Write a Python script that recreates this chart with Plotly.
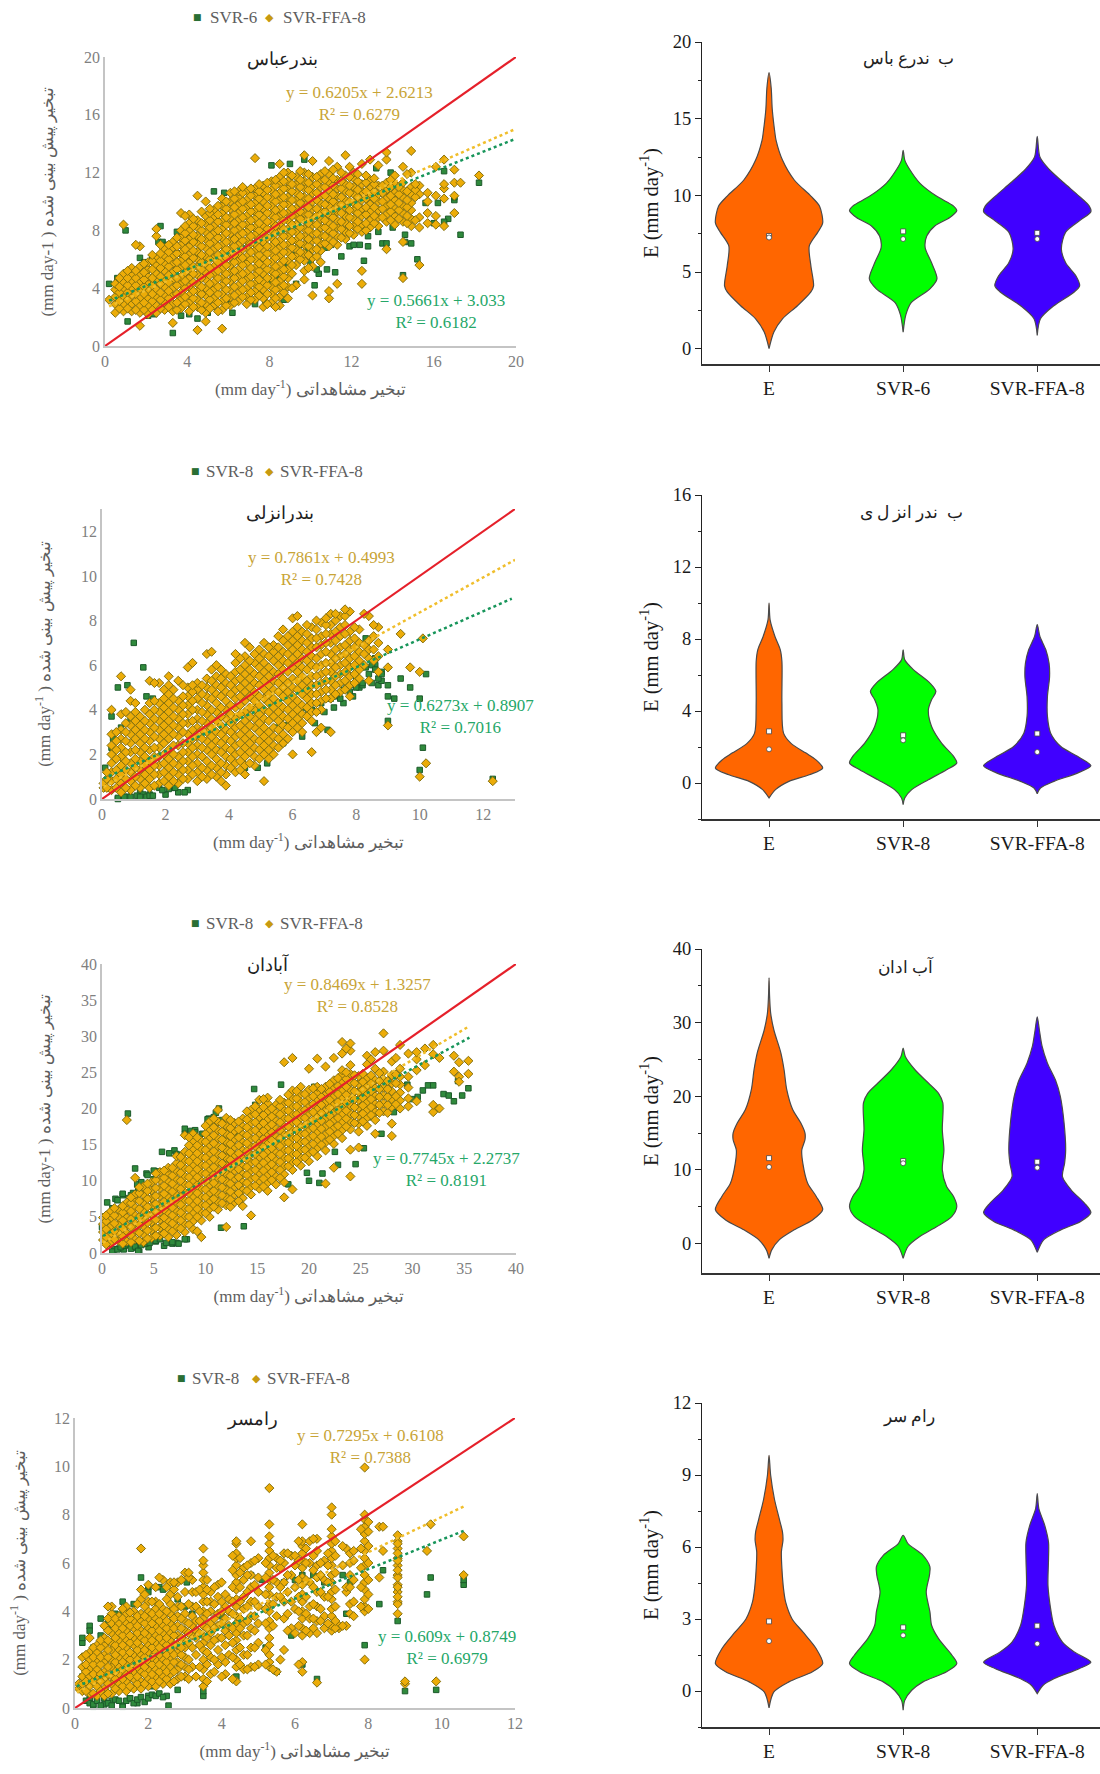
import plotly.graph_objects as go

W, H = 1100, 1774
SERIF = "Liberation Serif, DejaVu Serif, serif"
GOLD_FILL, GOLD_EDGE = "#ECAC08", "#84700F"
GREEN_FILL, GREEN_EDGE = "#2F8A3C", "#1C5A2A"
GOLD_TXT, GREEN_TXT = "#C8A436", "#25A768"
GOLD_TREND, GREEN_TREND = "#F0BE2C", "#17955A"
TICK_GREY, TITLE_GREY = "#808080", "#5E5E5E"

# ---------- Panel 1: Bandar Abbas ----------
ba_ffa_x = [0.2,0.5,0.9,1.3,1.7,2.1,2.5,2.9,3.3,3.7,4.1,4.5,4.9,5.3,5.7,6.1,6.5,6.9,7.3,7.7,8.1,8.5,8.9,9.3,9.7,10.1,10.5,10.9,11.3,11.7,12.1,12.5,12.9,13.3,13.7,14.1,14.5,14.9,15.3,15.7,16.1,16.5,17.0,17.3,18.2]
ba_ffa_y = [
 [3.2],[2.3,2.9,3.4,3.9,4.3],[2.4,2.9,3.4,3.9,4.4,5.0,8.4],[2.4,2.9,3.5,4.0,4.5,5.0,5.4],[1.4,2.3,2.8,3.3,3.9,4.4,4.9,5.5,6.9],
 [2.2,2.8,3.3,3.8,4.3,4.8,5.3,5.8],[2.3,2.8,3.4,3.9,4.5,5.0,5.6,6.1,7.6,8.1],[2.5,3.0,3.5,4.1,4.6,5.2,5.7,6.2,6.7],[1.6,2.4,2.9,3.5,4.0,4.6,5.1,5.7,6.2,6.8,7.2],
 [2.6,3.2,3.7,4.3,4.8,5.4,5.9,6.4,7.0,7.5,8.0,9.2],[2.4,3.0,3.5,4.1,4.7,5.2,5.8,6.3,6.9,7.4,8.0,8.5,9.1],[1.1,2.7,3.2,3.8,4.3,4.9,5.5,6.0,6.5,7.1,7.6,8.2,8.7,10.4],
 [1.7,2.3,2.9,3.5,4.0,4.6,5.1,5.7,6.2,6.8,7.4,7.9,8.5,9.0,10.0],[2.8,3.3,3.9,4.4,5.0,5.5,6.1,6.7,7.2,7.8,8.3,8.9,9.4],[1.2,2.5,3.1,3.6,4.2,4.7,5.3,5.9,6.4,7.0,7.5,8.1,8.6,9.2,9.7,10.2],
 [2.8,3.4,3.9,4.5,5.1,5.6,6.2,6.7,7.3,7.8,8.4,8.9,9.5,10.0,10.6],[3.1,3.7,4.2,4.8,5.3,5.9,6.4,7.0,7.6,8.1,8.7,9.2,9.8,10.3,10.7],[2.9,3.4,4.0,4.6,5.1,5.7,6.2,6.8,7.3,7.9,8.4,9.0,9.6,10.1,10.7],
 [3.2,3.8,4.3,4.9,5.4,6.0,6.6,7.1,7.7,8.2,8.8,9.3,9.9,10.4,10.9,13.0],[2.7,3.3,3.9,4.4,5.0,5.6,6.1,6.7,7.2,7.8,8.3,8.9,9.5,10.0,10.6,11.1],[3.0,3.6,4.1,4.7,5.2,5.8,6.4,6.9,7.5,8.0,8.6,9.1,9.7,10.2,10.8,11.4],
 [2.8,3.4,4.0,4.5,5.1,5.6,6.2,6.8,7.3,7.9,8.4,9.0,9.5,10.1,10.6,11.2,11.7,12.6],[3.3,4.1,4.7,5.3,5.9,6.5,7.0,7.6,8.1,8.7,9.2,9.8,10.3,10.9,11.4,12.0],[4.2,5.6,6.2,6.7,7.3,7.9,8.4,9.0,9.5,10.1,10.6,11.2,11.7],
 [4.6,5.2,5.9,6.4,7.0,7.6,8.1,8.7,9.2,9.8,10.3,10.9,11.4,12.0,13.2],[3.5,5.5,6.1,6.7,7.3,7.8,8.4,8.9,9.5,10.0,10.6,11.1,11.7,12.8],[5.8,6.6,7.1,7.7,8.2,8.8,9.3,9.9,10.4,11.0,11.5,11.9],
 [3.3,3.8,6.9,7.4,8.0,8.5,9.1,9.7,10.2,10.8,11.3,11.9,12.8],[4.3,7.0,7.6,8.2,8.7,9.3,9.8,10.4,10.9,11.5,12.4],[7.4,7.9,8.5,9.0,9.6,10.1,10.7,11.2,11.8,13.2],
 [7.7,8.3,8.8,9.4,9.9,10.5,11.0,11.6,12.0],[4.3,5.2,7.9,8.4,9.0,9.5,10.1,10.7,11.2,12.6],[8.2,8.7,9.3,9.8,10.4,10.9,11.5,12.9],[8.3,8.9,9.4,10.0,10.5,11.1,12.5],
 [6.7,8.6,9.1,9.7,10.2,10.8,11.3,12.9,13.4],[8.4,9.0,9.5,10.1,10.6,11.2,11.8],[4.7,7.2,8.6,9.2,9.7,10.3,10.8,11.3,12.4],[8.3,8.8,9.4,9.9,10.5,11.0,12.0,13.5],[5.6,8.2,8.9,10.5,11.1],
 [8.5,9.2,10.0,10.6],[8.4,9.0,10.4,12.4],[8.3,10.2,10.9,11.2,12.9],[9.2,10.4,11.3,12.2],[11.3],[11.8]]
ba_ffa_x2 = [0.7,1.1,1.5,1.9,2.3,2.7,3.1,3.5,3.9,4.3,4.7,5.1,5.5,5.9,6.3,6.7,7.1,7.5,7.9,8.3,8.7,9.1,9.5,9.9,10.3,10.7,11.1,11.5,11.9,12.3,12.7,13.1,13.5,13.9,14.3,14.7,15.1]
ba_ffa_y2 = [
 [2.6,3.1,3.7,4.1,4.7],[2.6,3.2,3.7,4.2,4.7,5.2],[2.5,3.1,3.6,4.2,4.7,5.2,7.0],[2.5,3.0,3.6,4.1,4.6,5.1,5.7],[2.5,3.1,3.6,4.2,4.7,5.3,5.9,6.3],[2.6,3.2,3.7,4.3,4.8,5.4,5.9,6.4,7.0],[2.7,3.3,3.8,4.4,4.9,5.5,6.0,6.5,7.0],
 [2.5,3.0,3.6,4.2,4.7,5.3,5.8,6.4,6.9,7.5],[2.9,3.4,4.0,4.5,5.1,5.6,6.2,6.7,7.3,7.8,8.3,9.0],[2.7,3.3,3.8,4.4,5.0,5.5,6.1,6.6,7.2,7.7,8.3,8.8],[2.5,3.0,3.6,4.1,4.7,5.3,5.8,6.3,6.9,7.4,8.0,8.5,9.3],[2.6,3.2,3.7,4.3,4.9,5.4,6.0,6.5,7.1,7.6,8.2,8.7,9.2,9.5],
 [2.4,3.0,3.6,4.1,4.7,5.2,5.8,6.3,6.9,7.5,8.0,8.6,9.1,9.7],[2.8,3.3,3.9,4.5,5.0,5.6,6.1,6.7,7.2,7.8,8.4,8.9,9.5,10.0],[3.0,3.5,4.1,4.7,5.2,5.8,6.3,6.9,7.4,8.0,8.5,9.1,9.6,10.2,10.7],[3.4,3.9,4.5,5.0,5.6,6.1,6.7,7.3,7.8,8.4,8.9,9.5,10.0,10.6,11.0],
 [3.2,3.7,4.3,4.8,5.4,6.0,6.5,7.1,7.6,8.2,8.7,9.3,9.8,10.4,10.9],[3.5,4.1,4.6,5.2,5.7,6.3,6.8,7.4,8.0,8.5,9.1,9.6,10.2,10.7,11.2],[2.9,3.6,4.2,4.7,5.3,5.8,6.4,6.9,7.5,8.1,8.6,9.2,9.7,10.3,10.8,11.3],[2.7,3.3,3.9,4.4,5.0,5.5,6.1,6.6,7.2,7.8,8.3,8.9,9.4,10.0,10.5,11.1,11.5],
 [3.7,4.2,4.8,5.3,5.9,6.5,7.0,7.6,8.1,8.7,9.2,9.8,10.3,10.9,11.4,12.0],[4.0,5.0,5.6,6.2,6.8,7.3,7.9,8.4,9.0,9.5,10.1,10.7,11.2,11.8],[6.0,6.5,7.1,7.6,8.2,8.8,9.3,9.9,10.4,11.0,11.5,12.1],[5.4,6.3,6.9,7.4,8.0,8.5,9.1,9.6,10.2,10.8,11.3,11.9],
 [6.2,6.7,7.3,7.8,8.4,9.0,9.5,10.1,10.6,11.2,11.7],[7.1,7.6,8.2,8.7,9.3,9.8,10.4,11.0,11.5,12.1],[7.2,7.8,8.3,8.9,9.4,10.0,10.5,11.1,11.6,12.2],[7.5,8.1,8.6,9.2,9.8,10.3,10.9,11.4,12.0],[7.8,8.3,8.9,9.4,10.0,10.6,11.1,11.7,12.4],
 [8.1,8.6,9.2,9.7,10.3,10.8,11.4,11.9],[8.0,8.5,9.1,9.6,10.2,10.7,11.3,11.8],[8.5,9.0,9.6,10.2,10.7,11.2,11.6],[8.9,9.5,10.0,10.6,11.1],[8.7,9.3,9.8,10.4,11.0,11.5],[8.8,9.4,9.9,10.5,11.0],[8.5,9.0,9.6,10.1,10.7,11.9],[8.7,10.3,10.8,11.2]]

ba_svr_x = [0.2,0.6,1.0,1.1,1.3,1.7,1.8,2.1,2.3,2.4,2.6,2.7,2.8,3.0,3.2,3.3,3.5,3.7,3.9,4.1,4.3,4.5,4.8,5.0,5.3,5.7,5.8,6.1,6.2,6.5,6.9,7.3,7.5,7.8,8.0,8.1,8.3,8.7,9.0,9.3,9.7,10.0,10.2,10.4,10.8,11.2,11.5,11.9,12.1,12.4,12.6,12.8,13.2,13.5,13.7,13.9,14.5,14.6,14.9,15.2,16.0,16.5,16.7,17.0,17.3,18.2]
ba_svr_y = [4.3,4.7,8.0,1.7,4.8,6.1,5.0,2.1,6.1,2.2,7.2,8.3,7.2,2.6,6.8,0.9,7.9,2.1,7.8,2.2,7.2,1.9,2.6,2.3,10.7,9.7,10.6,2.9,2.3,9.8,10.7,2.9,3.5,3.0,4.4,12.5,4.7,3.2,12.6,4.3,12.9,5.8,4.2,5.0,5.3,5.1,6.2,6.9,7.0,7.0,5.9,6.9,12.3,7.1,7.1,12.0,4.9,7.2,7.1,6.0,8.5,12.1,8.8,10.1,7.7,11.3]
ba_svr_x2 = [1.5,1.9,3.0,4.4,8.2,8.5,8.9,9.1,9.5,9.9,10.3,10.7,11.0,12.8,13.3,14.0,14.6,15.0,15.6,16.2,16.5,17.0]
ba_svr_y2 = [5.0,5.8,7.0,7.3,4.8,4.3,5.5,6.3,7.0,6.6,5.3,6.8,7.0,7.6,7.9,8.2,7.7,11.0,9.9,9.9,8.6,10.3]
ba_trend_x = [0.2, 20]
ba_ffa_trend_y = [2.74, 15.03]
ba_svr_trend_y = [3.14, 14.35]
ba_red = [0, 20]

# ---------- Panel 2: Bandar Anzali ----------
an_ffa_x = [0.05,0.3,0.6,0.9,1.2,1.5,1.8,2.1,2.4,2.7,3.0,3.3,3.6,3.9,4.2,4.5,4.8,5.1,5.4,5.7,6.0,6.3,6.6,6.9,7.2,7.5,7.8,8.1,8.4,8.7,9.0,9.4,9.7,10.0,10.1,10.2,12.3]
an_ffa_y = [
 [0.5,0.7],[0.4,0.8,1.2,1.6,2.0,2.4,2.9,4.0],[0.3,0.7,1.1,1.5,1.9,2.3,2.7,3.1,3.8,5.5],[0.4,0.8,1.2,1.6,2.1,2.5,2.9,3.3,3.7,4.4,4.9],[0.5,0.9,1.3,1.7,2.1,2.5,2.9,3.3,3.7],
 [0.5,0.9,1.3,1.7,2.2,2.6,3.0,3.4,3.8,4.3,5.3],[0.7,1.1,1.5,1.9,2.3,2.7,3.1,3.5,3.9,4.3,5.2],[0.6,1.0,1.4,1.8,2.2,2.7,3.1,3.5,3.9,4.3,4.7,5.1,5.5],[0.7,1.1,1.5,1.9,2.4,2.8,3.2,3.6,4.0,4.4,5.3],
 [0.9,1.3,1.7,2.1,2.5,2.9,3.4,3.8,4.2,4.6,5.0,5.9],[0.8,1.2,1.6,2.0,2.4,2.8,3.2,3.6,4.0,4.5,4.9,5.2],[0.9,1.3,1.7,2.2,2.6,3.0,3.4,3.8,4.2,4.6,5.0,5.4,6.5],[1.0,1.4,1.8,2.2,2.6,3.0,3.5,3.9,4.3,4.7,5.1,5.5,6.0],
 [0.6,1.1,1.5,1.9,2.3,2.7,3.1,3.6,4.0,4.4,4.8,5.2,5.6],[1.2,1.6,2.0,2.4,2.8,3.2,3.6,4.1,4.5,4.9,5.3,5.7,6.1,6.5],[1.1,1.5,1.9,2.3,2.7,3.1,3.5,3.9,4.4,4.8,5.2,5.6,6.0,6.4,7.0],[1.5,1.9,2.3,2.7,3.2,3.6,4.0,4.4,4.8,5.2,5.6,6.1,6.5],
 [0.8,2.0,2.4,2.8,3.2,3.6,4.0,4.5,4.9,5.3,5.7,6.1,6.5,7.0],[2.0,2.4,2.8,3.2,3.7,4.1,4.5,4.9,5.3,5.7,6.2,6.6,6.9],[2.5,2.9,3.3,3.7,4.1,4.6,5.0,5.4,5.8,6.2,6.6,7.1,7.6],[2.0,3.0,3.4,3.8,4.2,4.6,5.0,5.4,5.9,6.3,6.7,7.1,7.5,8.1],
 [3.0,3.4,3.8,4.2,4.7,5.1,5.5,5.9,6.3,6.7,7.1,7.5],[2.1,3.5,3.9,4.3,4.7,5.1,5.5,6.0,6.4,6.8,7.2,7.7],[3.2,4.0,4.4,4.8,5.2,5.6,6.0,6.5,6.9,7.3,7.9],[3.0,4.5,4.9,5.3,5.7,6.1,6.5,7.0,7.4,7.8,8.3],
 [4.8,5.2,5.6,6.0,6.4,6.8,7.3,7.7,8.2],[4.6,5.1,5.5,5.9,6.3,6.7,7.1,7.5,8.4],[5.4,5.8,6.2,6.6,7.0,7.6],[5.3,6.3,6.7,7.1,8.2],[5.7,6.4,7.0,7.7],[3.3,5.9,6.7],[7.4],[5.9],[1.0,5.7],[7.2],[1.6],[0.8]]
an_ffa_x2 = [0.15,0.45,0.75,1.05,1.35,1.65,1.95,2.25,2.55,2.85,3.15,3.45,3.75,4.05,4.35,4.65,4.95,5.25,5.55,5.85,6.15,6.45,6.75,7.05,7.35,7.65,7.95,8.25,8.55]
an_ffa_y2 = [
 [0.5,0.9,1.2],[0.5,0.9,1.3,1.8,2.2,2.6,3.0],[0.5,0.9,1.3,1.7,2.1,2.6,3.0,3.4,3.9],[0.6,1.0,1.4,1.8,2.2,2.7,3.1,3.5,3.9,4.3],[0.7,1.1,1.5,1.9,2.3,2.7,3.1,3.5,4.0],[0.6,1.1,1.5,1.9,2.3,2.8,3.2,3.6,4.0,4.4,5.2],
 [0.8,1.2,1.6,2.0,2.5,2.9,3.3,3.7,4.1,4.5,4.9],[0.8,1.2,1.6,2.0,2.4,2.9,3.3,3.7,4.1,4.5,4.9],[0.9,1.3,1.7,2.1,2.5,3.0,3.4,3.8,4.2,4.6,5.1],[1.1,1.5,1.9,2.3,2.7,3.1,3.5,4.0,4.4,4.8,5.1,6.1],[1.0,1.4,1.9,2.3,2.7,3.1,3.5,3.9,4.3,4.7,5.1],
 [1.1,1.5,2.0,2.4,2.8,3.2,3.6,4.0,4.5,4.9,5.3,5.8,6.6],[0.8,1.2,1.6,2.1,2.5,2.9,3.3,3.7,4.1,4.6,5.0,5.4,5.8],[1.4,1.8,2.2,2.6,3.0,3.4,3.8,4.2,4.7,5.1,5.5],[1.3,1.7,2.1,2.5,2.9,3.3,3.8,4.2,4.6,5.0,5.4,5.8,6.3],[1.6,2.1,2.5,2.9,3.3,3.7,4.1,4.6,5.0,5.4,5.8,6.2,6.8],
 [1.8,2.2,2.6,3.0,3.4,3.8,4.2,4.6,5.1,5.5,5.9,6.3,6.7],[1.8,2.2,2.6,3.0,3.5,3.9,4.3,4.7,5.1,5.5,5.9,6.4,6.8],[2.3,2.7,3.1,3.5,3.9,4.3,4.8,5.2,5.6,6.0,6.4,6.8,7.3],[2.7,3.2,3.6,4.0,4.4,4.8,5.2,5.7,6.1,6.5,6.9,7.3],
 [3.2,3.6,4.0,4.4,4.9,5.3,5.7,6.1,6.5,6.9,7.3,7.7,8.2],[3.7,4.1,4.5,4.9,5.3,5.8,6.2,6.6,7.0,7.4,7.8],[3.0,3.9,4.3,4.7,5.1,5.5,5.9,6.3,6.8,7.2,7.6,8.0],[4.5,4.9,5.3,5.7,6.1,6.6,7.0,7.4,7.8,8.1],[4.7,5.1,5.5,5.9,6.3,6.7,7.1,7.5,8.0,8.3],[4.9,5.3,5.7,6.1,6.5,6.9,7.4,7.8,8.2,8.5],[5.2,5.6,6.0,6.4,6.8,7.2,7.7],[6.0,6.5,6.9,8.3],[6.2,6.7,7.3,7.8]]

an_svr_x = [0.1,0.2,0.3,0.3,0.35,0.5,0.5,0.6,0.8,0.8,0.9,1.0,1.2,1.3,1.3,1.4,1.5,1.6,1.8,2.0,2.2,2.4,2.7,2.9,3.2,3.6,4.5,4.9,5.1,5.2,5.5,5.7,6.0,6.3,6.5,6.7,7.1,7.3,7.6,7.9,8.1,8.2,8.3,8.5,8.6,8.7,8.8,9.0,9.0,9.2,9.4,9.7,10.0,10.2,10.0,10.1,12.3,9.0,8.8,8.6,8.0,7.8,7.5]
an_svr_y = [1.4,0.9,3.7,2.3,2.7,0.0,5.0,3.2,5.1,0.1,3.5,7.0,0.3,0.2,5.9,4.6,0.2,4.5,0.5,0.2,0.5,0.3,0.4,5.0,3.0,2.2,1.4,1.4,2.8,1.6,3.2,2.5,3.5,2.8,3.9,3.4,3.1,4.1,4.3,4.6,5.0,5.1,7.2,5.2,6.3,5.1,5.3,5.1,4.6,4.5,5.4,5.0,4.5,5.6,1.3,2.3,0.9,3.5,5.7,6.0,5.4,4.8,4.5]
an_svr_x2 = [0.5,0.7,0.9,1.1,1.2,1.4,1.5,1.6,1.9,2.1,2.3,2.6,5.8,6.2,6.4,6.6,6.9,7.0,7.2,7.3,7.4,7.6,7.7,7.8,8.0,8.0,8.2,8.3,8.4,8.5,8.6,8.6,8.7,8.8]
an_svr_y2 = [0.05,0.1,0.1,0.15,0.1,0.1,0.15,0.15,0.4,0.45,0.5,0.3,3.3,3.9,4.1,4.0,4.3,3.9,4.5,4.6,4.7,4.9,5.0,5.1,5.0,5.6,5.2,5.9,5.6,6.0,6.3,5.8,5.4,5.6]
an_trend_ffa_x = [0.05, 13]
an_ffa_trend_y = [0.54, 10.72]
an_trend_svr_x = [0.05, 12.9]
an_svr_trend_y = [0.92, 8.98]
an_red = [0, 13]

# ---------- Panel 3: Abadan ----------
ab_ffa_x = [0.1,0.8,1.6,2.4,3.2,4.0,4.8,5.6,6.4,7.2,8.0,8.8,9.6,10.4,11.2,12.0,12.8,13.6,14.4,15.2,16.0,16.8,17.6,18.4,19.2,20.0,20.8,21.6,22.4,23.2,24.0,24.8,25.6,26.4,27.2,28.0,28.8,29.6,30.4,31.2,32.0,32.6,34.0,34.5,35.4]
ab_ffa_y = [
 [1.8,2.9,4.0,4.9],[1.4,2.5,3.6,4.7,5.7],[1.7,2.8,3.9,5.0,6.0],[1.6,2.7,3.8,4.9,6.0,7.0,18.4],[1.9,3.0,4.1,5.2,6.3,7.4,8.1,10.4],[1.5,2.6,3.7,4.8,5.9,7.0,8.1,9.2],[2.1,3.2,4.3,5.4,6.5,7.6,8.7,9.8],[2.4,3.5,4.6,5.7,6.8,7.9,9.0,10.1,11.2],
 [2.2,3.3,4.4,5.5,6.6,7.7,8.8,9.9,11.0,11.8],[2.5,3.6,4.7,5.8,6.9,8.0,9.1,10.2,11.3,12.4,13.4],[2.9,4.0,5.1,6.2,7.3,8.4,9.5,10.6,11.7,12.8,14.0,16.3],[3.3,4.4,5.5,6.6,7.7,8.8,9.9,11.0,12.1,13.2,14.3,15.4,16.5],[2.2,4.5,5.6,6.7,7.8,8.9,10.0,11.1,12.2,13.3,14.4,15.5],
 [5.0,6.1,7.2,8.3,9.4,10.5,11.6,12.7,13.8,14.9,16.0,17.1,18.2],[6.0,7.1,8.2,9.3,10.4,11.5,12.6,13.7,14.8,15.9,17.0,18.2,19.8],[3.6,6.6,7.7,8.8,9.9,11.0,12.1,13.2,14.3,15.4,16.5,17.6,18.7],[7.0,8.1,9.2,10.3,11.4,12.5,13.6,14.7,15.8,16.9,18.0],[6.5,7.6,8.7,9.8,10.9,12.0,13.1,14.2,15.3,16.4,17.5,18.6],
 [5.2,8.1,9.2,10.3,11.4,12.5,13.6,14.7,15.8,16.9,18.0,19.1,19.8],[8.9,10.0,11.1,12.2,13.3,14.4,15.5,16.6,17.7,18.8,19.9,21.2],[8.6,9.7,10.8,11.9,13.0,14.1,15.2,16.3,17.4,18.5,19.6,20.7,21.5],[9.5,10.6,11.7,12.8,13.9,15.0,16.1,17.2,18.3,19.4,20.5],[7.7,9.8,10.9,12.0,13.1,14.2,15.3,16.4,17.5,18.6,19.7,20.8,26.4],
 [8.8,11.5,12.6,13.7,14.8,15.9,17.0,18.1,19.2,20.3,21.4,22.5,27.0],[12.1,13.2,14.3,15.4,16.5,17.6,18.7,19.8,20.9,22.0,23.0],[12.7,13.8,14.9,16.0,17.1,18.2,19.3,20.4,21.5,22.6,25.5],[13.4,14.5,15.6,16.7,17.8,18.9,20.0,21.1,22.2,23.0,26.9],[9.6,14.2,15.3,16.4,17.5,18.6,19.7,20.8,21.9,23.0,25.8],
 [11.8,15.1,16.2,17.3,18.4,19.5,20.6,21.7,22.8,23.9,27.0],[15.9,17.0,18.1,19.2,20.3,21.4,22.5,23.6,24.7,25.3,27.6,29.2],[10.6,14.3,17.1,18.2,19.3,20.4,21.5,22.6,23.7,24.8,26.0,28.0,29.0],[14.6,16.8,17.9,19.0,20.1,21.2,22.3,23.4,24.5],[17.6,18.7,19.8,20.9,22.0,23.1,24.2,26.1,27.3],
 [16.5,18.4,19.5,20.6,21.7,22.8,23.9,25.5,27.8],[19.6,20.7,21.8,22.9,24.0,25.1,28.0,30.4],[16.2,17.9,20.2,21.3,22.4,23.5,24.6,26.5],[20.0,21.1,22.2,23.3,24.4,25.5,28.8],[20.3,21.4,22.9,24.4,27.6],[21.0,25.3,26.8,27.8],[28.3,26.0],[19.5,20.5,27.5,28.8],[27.0,20.0],[27.3,25.1],[26.4,24.4,23.7],[26.6,24.8]]
ab_ffa_x2 = [0.4,1.2,2.0,2.8,3.6,4.4,5.2,6.0,6.8,7.6,8.4,9.2,10.0,10.8,11.6,12.4,13.2,14.0,14.8,15.6,16.4,17.2,18.0,18.8,19.6,20.4,21.2,22.0,22.8,23.6,24.4,25.2,26.0,26.8,27.6,28.4]
ab_ffa_y2 = [
 [1.2,2.2,3.3,4.4,5.2],[1.9,3.0,4.1,5.2,6.2],[1.3,2.3,3.4,4.5,5.6,6.5],[1.5,2.5,3.6,4.7,5.8,6.9,7.7],[1.7,2.8,3.9,5.0,6.1,7.2,8.3,9.1],[2.0,3.1,4.2,5.3,6.4,7.5,8.6,9.6],[2.4,3.5,4.6,5.7,6.8,7.9,9.0,10.1,11.0],[2.7,3.8,4.9,6.0,7.1,8.2,9.3,10.4,11.4],
 [3.0,4.1,5.2,6.3,7.4,8.5,9.6,10.7,11.8],[3.4,4.5,5.6,6.7,7.8,8.9,10.0,11.1,12.2,13.3],[3.9,5.0,6.1,7.2,8.3,9.4,10.5,11.6,12.7,13.8,14.9,16.0],[3.0,5.0,6.1,7.2,8.3,9.4,10.5,11.6,12.7,13.8,14.9,16.0],[5.5,6.6,7.7,8.8,9.9,11.0,12.1,13.2,14.3,15.4,16.5,17.6],[6.4,7.5,8.6,9.7,10.8,11.9,13.0,14.1,15.2,16.3,17.4,18.6],
 [6.9,8.0,9.1,10.2,11.3,12.4,13.5,14.6,15.7,16.8,17.9],[6.4,7.4,8.5,9.6,10.7,11.8,12.9,14.0,15.1,16.2,17.3,18.4],[7.2,8.3,9.4,10.5,11.6,12.7,13.8,14.9,16.0,17.1,18.2],[8.6,9.7,10.8,11.9,13.0,14.1,15.2,16.3,17.4,18.5,19.6],[9.3,10.4,11.5,12.6,13.7,14.8,15.9,17.0,18.1,19.2,20.3],[9.2,10.3,11.4,12.5,13.6,14.7,15.8,16.9,18.0,19.1,20.2,21.3],
 [10.1,11.2,12.3,13.4,14.5,15.6,16.7,17.8,18.9,20.0],[10.4,11.5,12.6,13.7,14.8,15.9,17.0,18.1,19.2,20.3,21.2],[12.0,13.1,14.2,15.3,16.4,17.5,18.6,19.7,20.8,21.9],[12.6,13.7,14.8,15.9,17.0,18.1,19.2,20.3,21.4,22.4],[13.2,14.3,15.4,16.5,17.6,18.7,19.8,20.9,22.0],[14.0,15.1,16.2,17.3,18.4,19.5,20.6,21.7,22.8],[15.0,16.1,17.2,18.3,19.4,20.5,21.6,22.7],
 [15.7,16.8,17.9,19.0,20.1,21.2,22.3,23.4],[16.5,17.6,18.7,19.8,20.9,22.0,23.1,24.2],[17.5,18.6,19.7,20.8,21.9,23.0,24.1,25.0,28.3],[18.0,19.1,20.2,21.3,22.4,23.5,24.6],[18.2,19.3,20.4,21.5,22.6,23.7,24.8],[19.1,20.2,21.3,22.4,23.5,24.6,26.8],[19.4,20.5,21.6,22.7,23.8,24.9],[19.4,20.5,21.6,22.7,23.8],[20.6,21.7,23.5,24.7,27.0]]

ab_svr_x = [0.0,0.3,0.5,0.8,1.2,1.3,1.6,2.0,2.1,2.2,2.5,2.8,3.0,3.2,3.3,3.5,3.6,3.9,4.3,4.5,5.0,5.2,5.8,6.0,6.2,6.8,7.0,7.2,7.5,8.0,8.2,8.6,9.0,9.7,10.3,10.8,11.3,11.5,13.2,13.7,14.7,14.8,17.3,18.0,19.8,20.0,20.5,21.0,21.3,22.5,22.8,24.5,25.3,25.8,27.0,28.2,29.5,30.0,30.5,31.0,31.5,32.0,32.4,33.0,33.5,34.0,34.4,34.8,35.4]
ab_svr_y = [3.6,5.0,7.0,5.5,0.5,7.5,0.6,8.0,0.5,5.5,19.3,8.0,0.7,11.7,1.0,9.0,0.2,1.3,11.0,0.8,10.2,1.6,14.0,1.0,11.0,1.3,14.2,1.4,13.5,17.2,1.9,16.9,17.0,16.5,18.6,18.8,20.0,3.5,16.5,3.7,22.7,20.5,23.3,9.5,11.1,10.0,23.0,9.7,11.0,14.0,12.2,12.3,14.5,18.8,16.5,19.5,23.3,21.3,21.6,22.5,23.2,23.2,20.0,22.0,21.8,21.0,23.8,21.8,22.8]
ab_svr_x2 = [1.0,1.5,1.8,2.2,2.5,2.8,3.2,3.5,3.8,4.2,4.6,5.2,5.6,6.2,6.8,7.4,8.0,1.0,1.5,2.0,2.6,3.0,3.4,3.8,4.4,5.0,5.5,6.5,7.2,8.0,9.0,10.2,10.6,11.0,11.6]
ab_svr_y2 = [0.2,0.5,0.8,1.0,1.2,0.6,0.9,0.3,1.1,1.3,1.4,1.7,1.9,1.4,1.5,1.3,1.9,6.2,7.3,8.2,7.6,8.3,9.5,9.8,10.8,11.4,11.3,13.8,13.7,16.5,16.7,18.5,18.2,19.4,18.4]
ab_trend_x = [0.1, 35.5]
ab_ffa_trend_y = [1.41, 31.4]
ab_svr_trend_y = [2.35, 29.8]
ab_red = [0, 40]

# ---------- Panel 4: Ramsar ----------
ra_ffa_x = [0.1,0.2,0.4,0.6,0.8,1.0,1.2,1.4,1.6,1.8,2.0,2.2,2.4,2.6,2.8,3.0,3.2,3.5,3.7,3.9,4.1,4.2,4.4,4.6,4.8,5.0,5.3,5.5,5.7,5.9,6.0,6.2,6.4,6.6,6.8,7.0,7.2,7.4,7.5,7.9,8.3,8.4,8.8,9.0,9.6,9.7,9.85,10.6]
ra_ffa_y = [
 [0.8,1.0],[0.7,1.0,1.3,1.7,2.1],[0.6,0.9,1.3,1.6,2.0,2.3,2.9],[0.5,0.9,1.2,1.6,1.9,2.3,2.6],[0.5,0.8,1.2,1.5,1.9,2.2,2.6,2.9,3.4],[0.6,1.0,1.3,1.7,2.0,2.4,2.7,3.1,3.5,3.9,4.2],[0.7,1.0,1.4,1.7,2.1,2.4,2.8,3.1,3.5,3.8],
 [0.7,1.1,1.4,1.8,2.1,2.5,2.8,3.2,3.5,3.9,4.2],[0.8,1.2,1.5,1.9,2.2,2.6,2.9,3.3,3.6,4.0],[0.8,1.1,1.5,1.8,2.2,2.5,2.9,3.2,3.6,3.9,4.5,4.9,6.6],[0.9,1.2,1.6,1.9,2.3,2.6,3.0,3.3,3.7,4.0,4.4,5.1],[0.9,1.3,1.6,2.0,2.3,2.7,3.0,3.4,3.7,4.1,4.4,5.0],
 [1.0,1.3,1.7,2.0,2.4,2.7,3.1,3.4,3.8,4.1,5.3],[1.0,1.4,1.7,2.1,2.4,2.8,3.1,3.5,3.9,4.3,4.7,5.2],[1.2,1.6,1.9,2.3,2.6,3.0,3.4,3.8,4.2,4.6,5.2],[1.3,1.7,2.1,2.5,2.8,3.2,3.6,3.9,4.8,5.6],[1.7,2.5,3.0,3.4,3.8,4.2,4.8,5.3],
 [0.9,1.2,1.6,2.0,2.4,2.7,3.0,3.4,3.7,4.0,4.4,4.7,5.0,5.3,5.6,5.9,6.1,6.6],[1.4,2.1,2.6,3.1,3.5,4.0,4.4,4.8],[1.8,2.4,2.9,3.4,3.9,4.6,5.1],[1.4,1.9,2.6,3.2,3.7,4.2,4.7],[2.2,3.0,3.4,4.0,4.5],
 [1.1,1.7,2.0,2.4,2.8,3.1,3.5,3.8,4.2,4.5,4.9,5.2,5.5,5.9,6.2,6.4,6.8,6.9],[1.6,2.2,3.0,3.5,4.1,4.6,5.3,5.8],[1.7,2.5,3.3,3.8,4.4,5.0,5.5,6.0,6.9],[1.8,2.7,3.5,4.2,4.8,5.4,6.2],
 [1.7,1.9,2.2,2.6,2.9,3.3,3.6,4.0,4.3,4.7,5.0,5.3,5.6,5.9,6.2,6.5,6.8,7.1,7.6,9.1],[1.5,3.8,4.6,5.2,5.8,6.2],[2.4,3.7,4.4,5.2,6.0,6.4],[3.3,4.4,5.5,6.3],[3.1,4.1,5.0,5.9,6.3],
 [1.5,1.9,3.0,3.3,3.7,4.0,4.4,4.7,5.1,5.4,5.8,6.1,6.4,6.7,6.9,7.6],[3.1,3.7,4.2,5.2,6.0,6.9],[1.05,3.1,3.6,4.2,4.8,5.4,5.9,6.5,7.0],[3.3,3.8,4.6,5.3,6.1],
 [3.2,3.4,3.8,4.1,4.5,4.8,5.2,5.5,5.9,6.2,6.5,6.8,7.1,7.4,8.0,8.3],[3.3,3.4],[3.4,4.8,5.0,6.6],[3.9,4.3,5.0,5.5,6.0,6.4],
 [2.0,4.0,4.2,4.5,4.9,5.2,5.5,5.9,6.2,6.5,6.9,7.2,7.5,7.8,8.0,9.95],[5.4,7.5],[6.5,7.5],[3.9,4.4,4.8,5.1,5.5,5.9,6.2,6.6,6.9,7.15],[1.0,1.1],[6.5],[7.6],[1.1],[5.5,7.1]]
ra_ffa_x2 = [0.3,0.5,0.7,0.9,1.1,1.3,1.5,1.7,1.9,2.1,2.3,2.5,2.7,2.9,3.1,3.3,3.4,3.6,3.8,4.0,4.3,4.5,4.7,4.9,5.2,5.4,5.6,5.8,6.1,6.3,6.5,6.7,6.9,7.1,7.3,7.6,7.8,8.0,8.8]
ra_ffa_y2 = [
 [0.7,1.1,1.5,1.8,2.2],[0.6,1.1,1.4,1.8,2.1,2.5],[0.7,1.1,1.4,1.8,2.1,2.5,2.8],[0.6,1.0,1.4,1.7,2.1,2.4,2.8,3.2,3.7,4.2],[0.8,1.2,1.5,1.9,2.2,2.6,2.9,3.3,3.7],[0.9,1.2,1.6,1.9,2.3,2.6,3.0,3.3,3.7,4.1],[0.9,1.3,1.6,2.0,2.3,2.7,3.0,3.4,3.7,3.95],[1.0,1.3,1.7,2.0,2.4,2.7,3.1,3.4,3.8,4.3],[1.0,1.4,1.7,2.1,2.4,2.8,3.1,3.5,3.8,4.2,4.7],
 [1.1,1.4,1.8,2.1,2.5,2.8,3.2,3.5,3.9,4.4],[1.1,1.5,1.8,2.2,2.5,2.9,3.2,3.6,3.9,4.3,5.4],[1.2,1.5,1.9,2.2,2.6,2.9,3.3,3.6,4.0,4.5,5.0],[1.1,1.5,1.9,2.2,2.6,3.0,3.3,3.7,4.1,4.9,5.2],[1.3,1.8,2.2,2.5,2.9,3.3,3.7,4.2,5.3],[1.2,1.6,2.0,2.7,3.1,3.5,4.3,5.4,5.6],[1.3,2.2,2.9,3.2,3.6,4.2,4.8],[1.7,2.6,3.1,3.6,4.0,4.9],
 [1.1,1.8,2.3,2.9,3.3,3.9,4.4,4.9,5.3],[1.5,2.0,2.8,3.3,3.7,4.3,5.0],[1.3,2.1,2.9,3.5,4.0,4.4,5.2],[1.2,2.1,2.7,3.3,3.9,4.4,5.0,5.7,6.3],[1.8,2.5,3.3,3.7,4.4,5.0,5.6,6.2],[1.6,2.2,3.0,3.6,4.2,4.8,5.5,5.9],[1.7,2.5,3.2,3.8,4.4,5.1,6.1],[1.8,2.4,3.5,4.1,4.7,5.4,6.0],[1.6,3.4,4.3,5.3,6.3],[2.0,4.6,5.0,5.8,6.1],[3.2,3.9,4.8,5.5,6.4],
 [1.8,3.4,4.0,4.6,5.3,6.1,6.9],[3.2,3.9,4.6,5.3,6.0,6.6],[3.3,3.7,4.3,5.0,5.7,6.3,7.0],[3.6,4.1,4.8,5.5,6.0],[3.5,4.6,5.2,5.9,6.4],[3.3,3.6,4.2,4.9,5.6,6.3,6.9],[3.4,5.9,6.7],[3.8,4.4,5.3,6.1,6.5],[4.2,5.0,5.8,6.6,7.4],[4.1,4.7,5.3,6.0,6.7,7.3,7.7],[4.3,4.6,5.0,5.4,5.7,6.1,6.4,6.8]]

ra_svr_x = [0.2,0.2,0.4,0.4,0.5,0.5,0.6,0.7,0.8,0.9,1.0,1.1,1.3,1.3,1.5,1.7,1.8,1.8,2.0,2.0,2.1,2.3,2.5,2.55,2.8,3.05,3.5,3.5,4.0,4.4,4.8,5.1,5.2,5.5,5.7,5.9,6.0,6.2,6.2,6.5,6.6,6.8,7.3,7.4,7.5,7.9,8.3,8.4,8.8,8.8,9.0,9.6,9.7,9.85,10.6,10.6]
ra_svr_y = [2.7,1.3,3.4,0.4,2.5,0.05,0.3,3.0,0.15,3.5,0.3,3.2,0.1,4.4,0.4,0.2,5.4,3.8,0.5,5.0,0.9,5.0,0.5,0.1,0.75,5.2,0.5,0.7,3.8,1.3,5.5,5.3,2.5,1.5,5.2,3.0,5.3,1.8,5.5,5.5,1.2,5.2,5.5,3.9,5.2,2.6,4.3,5.7,3.6,5.0,0.7,4.7,5.4,0.75,5.1,5.3]
ra_svr_x2 = [.3,.4,.5,.6,.7,.8,.9,1.0,1.1,1.2,1.3,1.4,1.5,1.6,1.7,1.8,1.9,2.0,2.1,2.2,2.3,2.4,.2,.4,.6,.7,.9,1.1,1.3,1.6,2.0,2.4,2.6,2.8,3.0,3.2]
ra_svr_y2 = [.3,.2,.15,.3,.1,.4,.2,.1,.35,.3,.05,.3,.4,.2,.35,.45,.25,.4,.55,.5,.6,.45,2.9,3.2,2.5,3.7,3.3,3.9,4.0,4.3,4.8,4.9,4.0,4.5,4.2,3.9]
ra_trend_x = [0.05, 10.6]
ra_ffa_trend_y = [0.65, 8.34]
ra_svr_trend_y = [0.9, 7.33]
ra_red = [0, 12]

# ---------- Legends, titles and equations ----------
stations = ["بندرعباس", "بندرانزلی", "آبادان", "رامسر"]
violin_titles = ["ب  ندرع باس", "ب  ندر انز ل ی", "آب ادان", "رام سر"]
base_labels = ["SVR-6", "SVR-8", "SVR-8", "SVR-8"]
ffa_label = "SVR-FFA-8"
ffa_eqs = ["y = 0.6205x + 2.6213<br>R² = 0.6279", "y = 0.7861x + 0.4993<br>R² = 0.7428", "y = 0.8469x + 1.3257<br>R² = 0.8528", "y = 0.7295x + 0.6108<br>R² = 0.7388"]
svr_eqs = ["y = 0.5661x + 3.033<br>R² = 0.6182", "y = 0.6273x + 0.8907<br>R² = 0.7016", "y = 0.7745x + 2.2737<br>R² = 0.8191", "y = 0.609x + 0.8749<br>R² = 0.6979"]
x_title = "(mm day<sup>-1</sup>) تبخیر مشاهداتی"
y_titles = ["(mm day-1 ) تبخیر پیش بینی شده", "(mm day<sup>-1</sup> ) تبخیر پیش بینی شده", "(mm day-1 ) تبخیر پیش بینی شده", "(mm day<sup>-1</sup> ) تبخیر پیش بینی شده"]

# ---------- Violin outlines: level, relative density ----------
v1_e_lv = [18,17,15.6,14.05,13.6,12.3,11,9.95,9.3,8.2,7.6,6.7,5.4,4.1,3.7,2.8,1.95,1.08,0]
v1_e_d = [0,.04,.06,.11,.13,.25,.47,.78,.94,1,.91,.75,.78,.83,.78,.53,.25,.09,0]
v1_s_lv = [12.93,12.3,11.7,10.8,9.95,9.3,9,8.55,8,7.35,6.6,5.6,4.55,3.9,3,2.2,1.08]
v1_s_d = [0,.03,.12,.31,.62,.94,1,.87,.59,.44,.41,.53,.63,.5,.15,.05,0]
v1_f_lv = [13.84,12.5,11.7,10.8,9.95,9.3,8.93,8.4,7.6,6.5,5.6,4.75,4.1,3.7,2.8,1.95,0.87]
v1_f_d = [0,.05,.22,.5,.78,.97,1,.81,.53,.45,.53,.72,.79,.69,.31,.06,0]
v1_dots = [[7.35,7.25],[7.65,7.15],[7.55,7.15]]

v2_e_lv = [10,9.06,8.14,7.4,6.75,4.44,2.77,2.2,1.66,1.3,0.83,0.46,0.09,-0.37,-0.83]
v2_e_d = [0,.02,.11,.21,.24,.24,.27,.41,.69,.87,1,.75,.37,.12,0]
v2_s_lv = [7.4,6.84,6.3,5.55,5.09,4.62,4.07,3.14,2.2,1.48,1.11,0.74,0.18,-0.37,-0.83,-1.2]
v2_s_d = [0,.03,.19,.5,.61,.53,.47,.53,.72,.94,1,.81,.47,.16,.03,0]
v2_f_lv = [8.8,8.14,7.4,6.66,5.9,4.8,3.7,2.77,2.03,1.48,0.96,0.55,0.09,-0.28,-0.6]
v2_f_d = [0,.05,.16,.22,.23,.19,.19,.25,.44,.75,1,.75,.31,.06,0]
v2_dots = [[2.87,1.87],[2.65,2.37],[2.75,1.72]]

v3_e_lv = [36.07,33.6,31.3,29,25.9,23.6,20.9,18.2,16.4,15,14.1,12.7,10.9,8.2,6.4,4.6,3.2,1.86,0.5,-0.86,-2]
v3_e_d = [0,.01,.03,.09,.22,.28,.33,.44,.59,.67,.67,.61,.63,.72,.88,1,.81,.47,.19,.05,0]
v3_s_lv = [26.55,25.4,23.6,21.8,20.4,19.1,15.45,12.7,10,7.75,6.4,5,3.7,2.3,0.95,-0.4,-2]
v3_s_d = [0,.04,.22,.47,.66,.74,.73,.76,.73,.81,.94,1,.91,.63,.31,.09,0]
v3_f_lv = [30.8,29,26.8,24.5,22.2,20,16.4,12.7,10.9,9.1,7.3,5.5,4.2,3,1.86,0.5,-1.2]
v3_f_d = [0,.04,.09,.19,.34,.43,.5,.53,.51,.47,.63,.88,1,.81,.44,.12,0]
v3_dots = [[11.6,10.4],[11.2,10.9],[11.1,10.3]]

v4_e_lv = [9.82,8.99,8,7.18,6.63,6.28,5.8,5.1,4.26,3.7,3,2.46,1.76,1.14,0.8,0.38,-0.04,-0.7]
v4_e_d = [0,.03,.1,.19,.25,.26,.23,.24,.27,.31,.43,.63,.88,1,.81,.37,.09,0]
v4_s_lv = [6.49,6.14,5.65,5.17,4.82,4.12,3.29,2.74,2.18,1.49,1.14,0.8,0.38,0.03,-0.39,-0.8]
v4_s_d = [0,.09,.37,.5,.49,.43,.5,.53,.66,.91,1,.81,.37,.16,.03,0]
v4_f_lv = [8.22,7.6,6.9,6.2,5.5,4.4,3.57,2.74,2.04,1.63,1.2,0.93,0.51,0.24,-0.11]
v4_f_d = [0,.03,.14,.21,.21,.2,.24,.31,.47,.69,1,.78,.31,.11,0]
v4_dots = [[2.9,2.08],[2.65,2.32],[2.72,1.97]]

violin_colors = ["#FF6600", "#00FF00", "#4000FF"]

# ---------- Geometry in pixels ----------
scatter_boxes = [(105,516,346,57,20), (102,515,799,509,13), (102,516,1253,964,40), (75,515,1708,1418,12)]
scatter_ticks = [4, 2, 5, 2]
violin_boxes = [(702,364,42,(-1,20),5,2.5), (702,819,495,(-2,16),4,2), (702,1273,949,(-4,40),10,5), (702,1727,1403,(-1.5,12),3,1.5)]
legend_px = [(197,208,269,281,17), (195,204,269,278,471), (195,204,269,278,923), (181,190,256,265,1378)]
y_standoff = [26, 26, 26, 24]

scatter_data = [
 (ba_svr_x+ba_svr_x2, ba_svr_y+ba_svr_y2, [(ba_ffa_x,ba_ffa_y),(ba_ffa_x2,ba_ffa_y2)], ba_trend_x, ba_ffa_trend_y, ba_trend_x, ba_svr_trend_y, ba_red),
 (an_svr_x+an_svr_x2, an_svr_y+an_svr_y2, [(an_ffa_x,an_ffa_y),(an_ffa_x2,an_ffa_y2)], an_trend_ffa_x, an_ffa_trend_y, an_trend_svr_x, an_svr_trend_y, an_red),
 (ab_svr_x+ab_svr_x2, ab_svr_y+ab_svr_y2, [(ab_ffa_x,ab_ffa_y),(ab_ffa_x2,ab_ffa_y2)], ab_trend_x, ab_ffa_trend_y, ab_trend_x, ab_svr_trend_y, ab_red),
 (ra_svr_x+ra_svr_x2, ra_svr_y+ra_svr_y2, [(ra_ffa_x,ra_ffa_y),(ra_ffa_x2,ra_ffa_y2)], ra_trend_x, ra_ffa_trend_y, ra_trend_x, ra_svr_trend_y, ra_red),
]
violin_data = [
 [(v1_e_lv,v1_e_d),(v1_s_lv,v1_s_d),(v1_f_lv,v1_f_d),v1_dots],
 [(v2_e_lv,v2_e_d),(v2_s_lv,v2_s_d),(v2_f_lv,v2_f_d),v2_dots],
 [(v3_e_lv,v3_e_d),(v3_s_lv,v3_s_d),(v3_f_lv,v3_f_d),v3_dots],
 [(v4_e_lv,v4_e_d),(v4_s_lv,v4_s_d),(v4_f_lv,v4_f_d),v4_dots],
]
title_xy = [(8.66,19.85),(5.6,12.8),(16,40),(4.83,11.95)]
ffa_eq_xy = [(12.4,16.75),(6.92,10.35),(24.7,35.7),(8.07,10.84)]
svr_eq_xy = [(16.1,2.4),(11.3,3.72),(33.3,11.6),(10.14,2.52)]
violin_title_xy = [(1.04,18.9),(1.06,15.0),(1.02,37.6),(1.04,11.4)]

HALF = 0.4
fig = go.Figure()
layout = dict(width=W, height=H, autosize=False, margin=dict(l=0,r=0,t=0,b=0,autoexpand=False),
              paper_bgcolor="white", plot_bgcolor="white", showlegend=False)
annots = []

for i in range(4):
    n = 2*i + 1
    ax, ay = f"x{n}", f"y{n}"
    x0, x1, y0, y1, rng = scatter_boxes[i]
    sx, sy, ffa_sets, tfx, tfy, tsx, tsy, red = scatter_data[i]
    fx = [x for xs, cols in ffa_sets for x, col in zip(xs, cols) for _ in col]
    fy = [y for xs, cols in ffa_sets for col in cols for y in col]
    fig.add_trace(go.Scatter(x=sx, y=sy, mode="markers", name=base_labels[i], xaxis=ax, yaxis=ay, cliponaxis=False,
        marker=dict(symbol="square", size=5.5, color=GREEN_FILL, line=dict(color=GREEN_EDGE, width=1))))
    fig.add_trace(go.Scatter(x=fx, y=fy, mode="markers", name=ffa_label, xaxis=ax, yaxis=ay, cliponaxis=False,
        marker=dict(symbol="diamond", size=7, color=GOLD_FILL, line=dict(color=GOLD_EDGE, width=1))))
    fig.add_trace(go.Scatter(x=tfx, y=tfy, mode="lines", xaxis=ax, yaxis=ay,
        line=dict(color=GOLD_TREND, width=2.5, dash="dot")))
    fig.add_trace(go.Scatter(x=tsx, y=tsy, mode="lines", xaxis=ax, yaxis=ay,
        line=dict(color=GREEN_TREND, width=2.5, dash="dot")))
    fig.add_trace(go.Scatter(x=red, y=red, mode="lines", xaxis=ax, yaxis=ay,
        line=dict(color="#E5202A", width=2.2)))
    layout["xaxis" + ("" if n == 1 else str(n))] = dict(domain=[x0/W, x1/W], range=[0,rng], anchor=ay, dtick=scatter_ticks[i], tick0=0,
        showgrid=False, zeroline=False, showline=True, linecolor="#C4C4C4", linewidth=1.5, ticks="",
        tickfont=dict(family=SERIF, size=16, color=TICK_GREY),
        title=dict(text=x_title, standoff=14, font=dict(family=SERIF, size=17, color=TITLE_GREY)))
    layout["yaxis" + ("" if n == 1 else str(n))] = dict(domain=[1-y0/H, 1-y1/H], range=[0,rng], anchor=ax, dtick=scatter_ticks[i], tick0=0,
        showgrid=False, zeroline=False, showline=True, linecolor="#C4C4C4", linewidth=1.5, ticks="",
        tickfont=dict(family=SERIF, size=16, color=TICK_GREY),
        title=dict(text=y_titles[i], standoff=y_standoff[i], font=dict(family=SERIF, size=17, color=TITLE_GREY)))
    # legend row as text, one glyph and one label per series
    gx, tx1, dx, tx2, ly = legend_px[i]
    for px, txt, col, size in [(gx, "■", "#2A6E34", 9), (tx1, base_labels[i], TITLE_GREY, 17), (dx, "◆", "#C79A10", 11), (tx2, ffa_label, TITLE_GREY, 17)]:
        annots.append(dict(x=px/W, y=1-ly/H, xref="paper", yref="paper", xanchor="left" if len(txt) > 1 else "center", yanchor="middle",
                           text=txt, showarrow=False, font=dict(family=SERIF if len(txt) > 1 else "DejaVu Sans", size=size, color=col)))
    tx, ty = title_xy[i]
    annots.append(dict(x=tx, y=ty, xref=ax, yref=ay, text=stations[i], showarrow=False, font=dict(family=SERIF, size=18, color="#222222")))
    ex, ey = ffa_eq_xy[i]
    annots.append(dict(x=ex, y=ey, xref=ax, yref=ay, text=ffa_eqs[i], showarrow=False, font=dict(family=SERIF, size=17, color=GOLD_TXT)))
    ex, ey = svr_eq_xy[i]
    annots.append(dict(x=ex, y=ey, xref=ax, yref=ay, text=svr_eqs[i], showarrow=False, font=dict(family=SERIF, size=17, color=GREEN_TXT)))

    # violin panel
    m = 2*i + 2
    vx, vy = f"x{m}", f"y{m}"
    vx0, vbot, vtop, yr, dt, mdt = violin_boxes[i]
    vd = violin_data[i]
    labels = ["E", base_labels[i], ffa_label]
    for c in range(3):
        lv, d = vd[c]
        xs = [c - HALF*w for w in d] + [c + HALF*w for w in reversed(d)]
        ys = list(lv) + list(reversed(lv))
        fig.add_trace(go.Scatter(x=xs, y=ys, mode="lines", fill="toself", fillcolor=violin_colors[c], xaxis=vx, yaxis=vy,
            name=labels[c], line=dict(color="#4A4A4A", width=1.2, shape="spline", smoothing=0.8)))
        fig.add_trace(go.Scatter(x=[c,c], y=vd[3][c], mode="markers", xaxis=vx, yaxis=vy,
            marker=dict(symbol=["square","circle"], size=5, color="white", line=dict(color="#444444", width=0.8))))
    layout[f"xaxis{m}"] = dict(domain=[vx0/W, 1.0], range=[-0.5, 2.468], anchor=vy, tickvals=[0,1,2], ticktext=labels,
        showgrid=False, zeroline=False, showline=True, linecolor="#333333", linewidth=1.5, ticks="outside", ticklen=6, tickcolor="#333333",
        tickfont=dict(family=SERIF, size=19.5, color="#1A1A1A"))
    layout[f"yaxis{m}"] = dict(domain=[1-vbot/H, 1-vtop/H], range=[yr[0], yr[1]], anchor=vx, dtick=dt, tick0=0,
        showgrid=False, zeroline=False, showline=True, linecolor="#222222", linewidth=1.2, ticks="outside", ticklen=6, tickcolor="#222222",
        minor=dict(dtick=mdt, ticks="outside", ticklen=3, tickcolor="#222222", tick0=0),
        tickfont=dict(family=SERIF, size=18.5, color="#1A1A1A"),
        title=dict(text="E (mm day<sup>-1</sup>)", standoff=8, font=dict(family=SERIF, size=20.5, color="#1A1A1A")))
    tx, ty = violin_title_xy[i]
    annots.append(dict(x=tx, y=ty, xref=vx, yref=vy, text=violin_titles[i], showarrow=False, font=dict(family=SERIF, size=16.5, color="#222222")))

layout["annotations"] = annots
fig.update_layout(**layout)
fig.write_html("out.html", config={"displayModeBar": False}, post_script="document.body.style.margin='0';")
